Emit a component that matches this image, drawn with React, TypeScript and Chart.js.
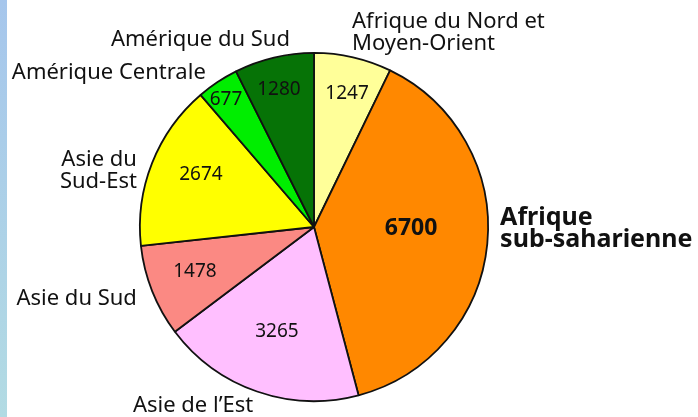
import React, { useEffect, useRef } from "react";
import { Chart, registerables } from "chart.js";

Chart.register(...registerables);

// ---- data ----
const regions = [
  "Afrique du Nord et Moyen-Orient",
  "Afrique sub-saharienne",
  "Asie de l’Est",
  "Asie du Sud",
  "Asie du Sud-Est",
  "Amérique Centrale",
  "Amérique du Sud",
];
const values = [1247, 6700, 3265, 1478, 2674, 677, 1280];
const labelLines = [
  ["Afrique du Nord et", "Moyen-Orient"],
  ["Afrique", "sub-saharienne"],
  ["Asie de l’Est"],
  ["Asie du Sud"],
  ["Asie du", "Sud-Est"],
  ["Amérique Centrale"],
  ["Amérique du Sud"],
];
const sliceColors = ["#ffff99", "#ff8800", "#ffbfff", "#fb8983", "#ffff00", "#00ee00", "#067306"];
const highlighted = [false, true, false, false, false, false, false];

// label placement relative to pie centre (reference radius 174)
const valuePos = [
  [33, -133],
  [97, 1],
  [-37, 105],
  [-119, 45],
  [-113, -52],
  [-88, -127],
  [-35, -137],
];
const namePos: { dx: number; dy: number; align: CanvasTextAlign }[] = [
  { dx: 38, dy: -199, align: "left" },
  { dx: 186, dy: -2, align: "left" },
  { dx: -181, dy: 185, align: "left" },
  { dx: -177, dy: 78, align: "right" },
  { dx: -177, dy: -61, align: "right" },
  { dx: -302, dy: -148, align: "left" },
  { dx: -203, dy: -181, align: "left" },
];

const FONT = '"Noto Sans", "DejaVu Sans", sans-serif';
const INK = "#111111";

const labelPlugin = {
  id: "pieLabels",
  afterDatasetsDraw(chart: any) {
    const meta = chart.getDatasetMeta(0);
    const arc0 = meta.data[0];
    if (!arc0) return;
    const cx = arc0.x;
    const cy = arc0.y;
    const k = arc0.outerRadius / 174;
    const ctx = chart.ctx as CanvasRenderingContext2D;
    ctx.save();
    ctx.fillStyle = INK;
    // values inside slices
    values.forEach((v, i) => {
      const [dx, dy] = valuePos[i];
      ctx.font = highlighted[i] ? `bold 23px ${FONT}` : `19px ${FONT}`;
      ctx.textAlign = "center";
      ctx.textBaseline = "middle";
      ctx.fillText(String(v), cx + dx * k, cy + dy * k);
    });
    // region names
    labelLines.forEach((lines, i) => {
      const p = namePos[i];
      const bold = highlighted[i];
      ctx.font = bold ? `bold 25px ${FONT}` : `22px ${FONT}`;
      ctx.textAlign = p.align;
      ctx.textBaseline = "alphabetic";
      const lh = bold ? 22 : 22.5;
      lines.forEach((line, j) => {
        ctx.fillText(line, cx + p.dx * k, cy + p.dy * k + j * lh);
      });
    });
    ctx.restore();
  },
};

export default function App() {
  const canvasRef = useRef<HTMLCanvasElement | null>(null);

  useEffect(() => {
    const canvas = canvasRef.current;
    if (!canvas) return;
    const chart = new Chart(canvas, {
      type: "pie",
      data: {
        labels: regions,
        datasets: [
          {
            data: values,
            backgroundColor: sliceColors,
            borderColor: "#111111",
            borderWidth: 1.8,
            borderAlign: "center",
          },
        ],
      },
      options: {
        responsive: false,
        animation: false,
        events: [],
        layout: { padding: { left: 139, right: 209, top: 52, bottom: 15 } },
        plugins: {
          legend: { display: false },
          tooltip: { enabled: false },
          title: { display: false },
        },
      },
      plugins: [labelPlugin],
    });
    return () => chart.destroy();
  }, []);

  return (
    <div
      style={{
        position: "absolute",
        left: 0,
        top: 0,
        width: 698,
        height: 417,
        background: "#ffffff",
        overflow: "hidden",
      }}
    >
      <div
        style={{
          position: "absolute",
          left: 0,
          top: 0,
          width: 7,
          height: 417,
          background: "linear-gradient(to bottom, #a6c6ec, #b2dbe3)",
        }}
      />
      <canvas
        ref={canvasRef}
        width={698}
        height={417}
        style={{ position: "absolute", left: 0, top: 0, display: "block" }}
      />
    </div>
  );
}
